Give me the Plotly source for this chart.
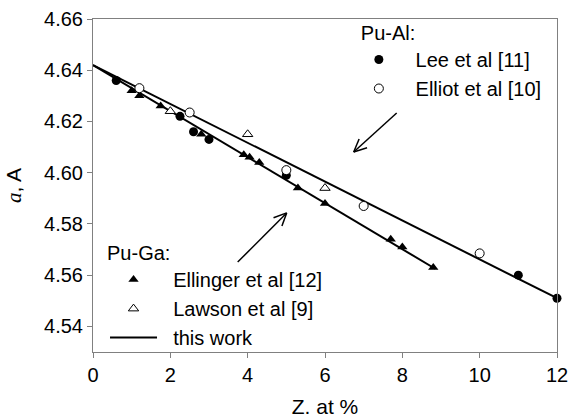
import math
import plotly.graph_objects as go

# ---- data ----
lee_x = [0.6, 2.25, 2.6, 3.0, 5.0, 11.0, 12.0]
lee_y = [4.636, 4.622, 4.616, 4.613, 4.599, 4.560, 4.551]
elliot_x = [1.2, 2.5, 5.0, 7.0, 10.0]
elliot_y = [4.633, 4.6235, 4.601, 4.587, 4.5685]
ellinger_x = [1.0, 1.2, 1.75, 2.8, 3.9, 4.05, 4.3, 5.3, 6.0, 7.7, 8.0, 8.8]
ellinger_y = [4.632, 4.630, 4.626, 4.615, 4.607, 4.606, 4.604, 4.594, 4.588, 4.574, 4.571, 4.563]
lawson_x = [2.0, 4.0, 6.0]
lawson_y = [4.624, 4.615, 4.594]
fit_al_x = [0, 12]
fit_al_y = [4.642, 4.551]
fit_ga_x = [0, 8.85]
fit_ga_y = [4.642, 4.5625]
x_ticks = [0, 2, 4, 6, 8, 10, 12]
y_ticks = [4.54, 4.56, 4.58, 4.60, 4.62, 4.64, 4.66]

# arrows (data units): tail -> head
arrow_al = ((7.854, 4.6233), (6.742, 4.6081))
arrow_ga = ((3.742, 4.5651), (5.009, 4.5843))

FONT = "Liberation Sans, Arial, sans-serif"
FS = 20
NB = "\u00a0"
X_RANGE = [0, 12]
Y_RANGE = [4.53, 4.66]
W, H = 569, 418
M = dict(l=93, r=12, t=19, b=66, autoexpand=False)
PW = W - M["l"] - M["r"]
PH = H - M["t"] - M["b"]
sx = PW / (X_RANGE[1] - X_RANGE[0])
sy = PH / (Y_RANGE[1] - Y_RANGE[0])

fig = go.Figure()

fig.add_trace(go.Scatter(x=fit_al_x, y=fit_al_y, mode="lines",
                         line=dict(color="black", width=2),
                         name=NB * 2 + "this work", legend="legend2", legendgroup="fit",
                         legendrank=3, showlegend=True))
fig.add_trace(go.Scatter(x=fit_ga_x, y=fit_ga_y, mode="lines",
                         line=dict(color="black", width=2),
                         name=NB * 2 + "this work", legend="legend2", legendgroup="fit",
                         showlegend=False))

fig.add_trace(go.Scatter(x=ellinger_x, y=ellinger_y, mode="markers",
                         marker=dict(symbol="triangle-up", size=9, color="black"),
                         name=NB * 2 + "Ellinger et al [12]", legend="legend2", legendrank=1,
                         cliponaxis=False))
fig.add_trace(go.Scatter(x=lawson_x, y=lawson_y, mode="markers",
                         marker=dict(symbol="triangle-up", size=9, color="white",
                                     line=dict(color="black", width=1)),
                         name=NB * 2 + "Lawson et al [9]", legend="legend2", legendrank=2,
                         cliponaxis=False))
fig.add_trace(go.Scatter(x=lee_x, y=lee_y, mode="markers",
                         marker=dict(symbol="circle", size=9, color="black"),
                         name=NB * 3 + "Lee et al [11]", legend="legend", legendrank=1,
                         cliponaxis=False))
fig.add_trace(go.Scatter(x=elliot_x, y=elliot_y, mode="markers",
                         marker=dict(symbol="circle", size=9, color="white",
                                     line=dict(color="black", width=1)),
                         name=NB * 3 + "Elliot et al [10]", legend="legend", legendrank=2,
                         cliponaxis=False))

shapes = []
def arrow(tail, head, wing_px=14, ang_deg=25):
    (x0, y0), (x1, y1) = tail, head
    shapes.append(dict(type="line", xref="x", yref="y", x0=x0, y0=y0, x1=x1, y1=y1,
                       line=dict(color="black", width=1.5)))
    dxp = (x0 - x1) * sx
    dyp = (y0 - y1) * sy
    L = math.hypot(dxp, dyp)
    ux, uy = dxp / L, dyp / L
    for s in (1, -1):
        a = math.radians(ang_deg) * s
        wx = ux * math.cos(a) - uy * math.sin(a)
        wy = ux * math.sin(a) + uy * math.cos(a)
        shapes.append(dict(type="line", xref="x", yref="y", x0=x1, y0=y1,
                           x1=x1 + wx * wing_px / sx, y1=y1 + wy * wing_px / sy,
                           line=dict(color="black", width=1.5)))
arrow(*arrow_al)
arrow(*arrow_ga)

axis_common = dict(showline=True, linecolor="#808080", linewidth=1, mirror=True,
                   ticks="outside", ticklen=5, tickcolor="#808080", showgrid=False,
                   zeroline=False, tickfont=dict(family=FONT, size=FS, color="black"))

fig.update_layout(
    width=W, height=H, margin=M,
    paper_bgcolor="white", plot_bgcolor="white",
    font=dict(family=FONT, size=FS, color="black"),
    shapes=shapes,
    xaxis=dict(range=X_RANGE, tickvals=x_ticks, ticktext=[str(v) for v in x_ticks],
               title=dict(text="Z. at %", font=dict(family=FONT, size=21), standoff=16),
               **axis_common),
    yaxis=dict(range=Y_RANGE, tickvals=y_ticks, ticktext=[f"{v:.2f}" for v in y_ticks],
               title=dict(text='<span style="font-family:Liberation Serif">'
                               '<i>a</i></span>, A',
                          font=dict(family=FONT, size=21), standoff=16),
               **axis_common),
    legend=dict(x=0.573, y=1.015, xanchor="left", yanchor="top",
                bgcolor="rgba(0,0,0,0)", borderwidth=0, itemwidth=30,
                title=dict(text="Pu-Al:", side="top", font=dict(family=FONT, size=FS)),
                font=dict(family=FONT, size=FS), tracegroupgap=0),
    legend2=dict(x=0.0259, y=0.354, xanchor="left", yanchor="top",
                 bgcolor="rgba(0,0,0,0)", borderwidth=0, itemwidth=47,
                 title=dict(text="Pu-Ga:", side="top", font=dict(family=FONT, size=FS)),
                 font=dict(family=FONT, size=FS), tracegroupgap=0),
)

fig.write_html("out.html")
